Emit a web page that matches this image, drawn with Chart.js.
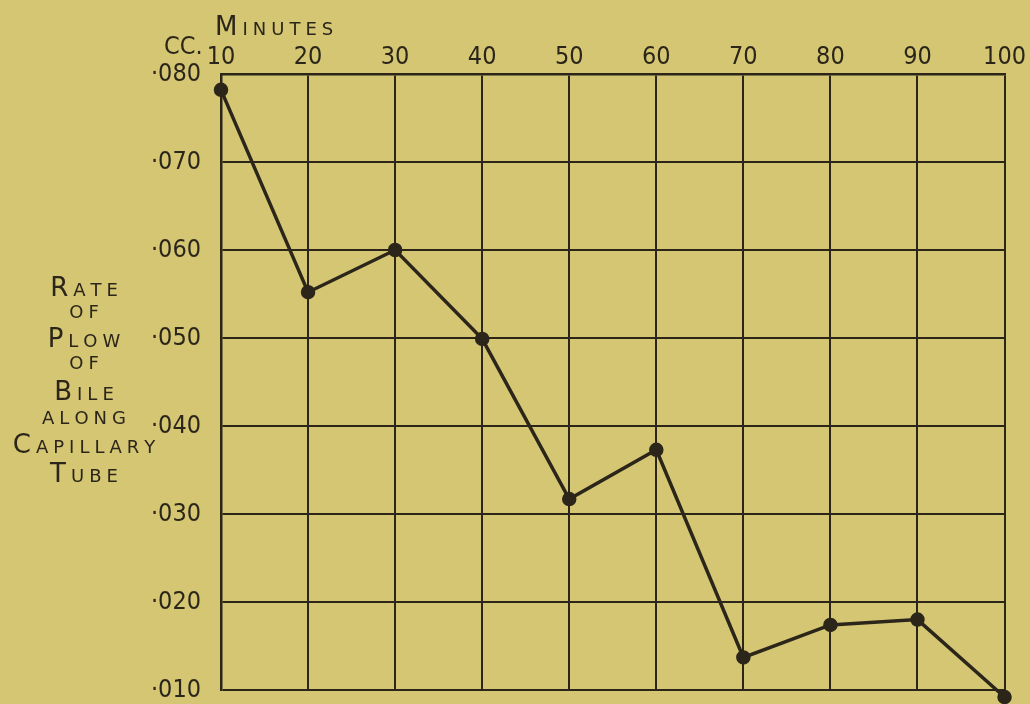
<!DOCTYPE html>
<html>
<head>
<meta charset="utf-8">
<script src="https://cdn.jsdelivr.net/npm/chart.js@4/dist/chart.umd.min.js"></script>
<style>
  html, body { margin: 0; padding: 0; background: #d5c674; overflow: hidden; }
  #wrap { position: relative; width: 1030px; height: 704px; overflow: hidden; }
</style>
</head>
<body>
<div id="wrap"><canvas id="c" width="1030" height="725"></canvas></div>
<script>
// ---- data ----
const minutes = [10, 20, 30, 40, 50, 60, 70, 80, 90, 100];
const rate = [0.0782, 0.0552, 0.0600, 0.0499, 0.0317, 0.0373, 0.0137, 0.0174, 0.0180, 0.0092];
const xTicks = [10, 20, 30, 40, 50, 60, 70, 80, 90, 100];
const yTicks = [0.01, 0.02, 0.03, 0.04, 0.05, 0.06, 0.07, 0.08];
const yTitleLines = ['Rate', 'of', 'Plow', 'of', 'Bile', 'along', 'Capillary', 'Tube'];
const xTitle = 'Minutes';
const yUnit = 'CC.';

const INK = '#2b2619';
const NARROW = '"Liberation Sans Narrow", "DejaVu Sans Condensed", "Arial Narrow", sans-serif';
const WIDE = '"DejaVu Sans", "Liberation Sans", sans-serif';

function smallCaps(ctx, text, cx, baseline, bigSize, smallSize, spacing, firstBig) {
  const parts = [];
  for (let i = 0; i < text.length; i++) {
    const ch = text[i];
    const big = (i === 0 && firstBig) || (ch !== ch.toLowerCase());
    parts.push({ ch: ch.toUpperCase(), size: big ? bigSize : smallSize });
  }
  let total = 0;
  parts.forEach((p, i) => {
    ctx.font = p.size + 'px ' + WIDE;
    p.w = ctx.measureText(p.ch).width;
    total += p.w + (i < parts.length - 1 ? spacing : 0);
  });
  let x = cx - total / 2;
  ctx.textAlign = 'left';
  ctx.textBaseline = 'alphabetic';
  parts.forEach(p => {
    ctx.font = p.size + 'px ' + WIDE;
    ctx.fillText(p.ch, x, baseline);
    x += p.w + spacing;
  });
}

const textPlugin = {
  id: 'texts',
  afterDraw(chart) {
    const ctx = chart.ctx;
    ctx.save();
    ctx.fillStyle = INK;
    const baselines = [296, 318, 347, 369, 400, 424, 453, 482];
    const firstBig = [true, false, true, false, true, false, true, true];
    yTitleLines.forEach((line, i) => {
      smallCaps(ctx, line, 84, baselines[i], 26, 18, 5, firstBig[i]);
    });
    let x = 215;
    ctx.textAlign = 'left';
    ctx.textBaseline = 'alphabetic';
    for (let i = 0; i < xTitle.length; i++) {
      const ch = xTitle[i].toUpperCase();
      const size = i === 0 ? 26 : 18;
      ctx.font = size + 'px ' + WIDE;
      ctx.fillText(ch, x, 35);
      x += ctx.measureText(ch).width + 5;
    }
    ctx.font = '25px ' + NARROW;
    ctx.textAlign = 'left';
    ctx.fillText(yUnit, 164, 54);
    ctx.restore();
  }
};

new Chart(document.getElementById('c'), {
  type: 'line',
  data: {
    datasets: [{
      data: minutes.map((m, i) => ({ x: m, y: rate[i] })),
      borderColor: INK,
      backgroundColor: INK,
      borderWidth: 3.5,
      pointRadius: 5.5,
      pointHoverRadius: 5.5,
      pointBackgroundColor: INK,
      pointBorderColor: INK,
      tension: 0,
      clip: false
    }]
  },
  options: {
    responsive: false,
    animation: false,
    events: [],
    layout: { autoPadding: false, padding: { left: 0, right: 23, top: 0, bottom: 14 } },
    plugins: { legend: { display: false }, tooltip: { enabled: false } },
    scales: {
      x: {
        type: 'linear',
        position: 'top',
        min: 10, max: 100,
        afterBuildTicks(s) { s.ticks = xTicks.map(v => ({ value: v })); },
        afterFit(s) { s.height = 74; },
        grid: { color: INK, lineWidth: 2, drawTicks: false },
        border: { color: INK, width: 2.5 },
        ticks: {
          color: INK,
          font: { family: NARROW, size: 25, lineHeight: 1 },
          padding: 4,
          maxRotation: 0,
          autoSkip: false
        }
      },
      y: {
        type: 'linear',
        min: 0.01, max: 0.08,
        afterBuildTicks(s) { s.ticks = yTicks.map(v => ({ value: v })); },
        afterFit(s) { s.width = 221; },
        grid: { color: INK, lineWidth: 2, drawTicks: false },
        border: { color: INK, width: 2.5 },
        ticks: {
          color: INK,
          font: { family: NARROW, size: 25 },
          padding: 20,
          autoSkip: false,
          callback: v => '·' + String(Math.round(v * 1000)).padStart(3, '0')
        }
      }
    }
  },
  plugins: [textPlugin]
});
</script>
</body>
</html>
